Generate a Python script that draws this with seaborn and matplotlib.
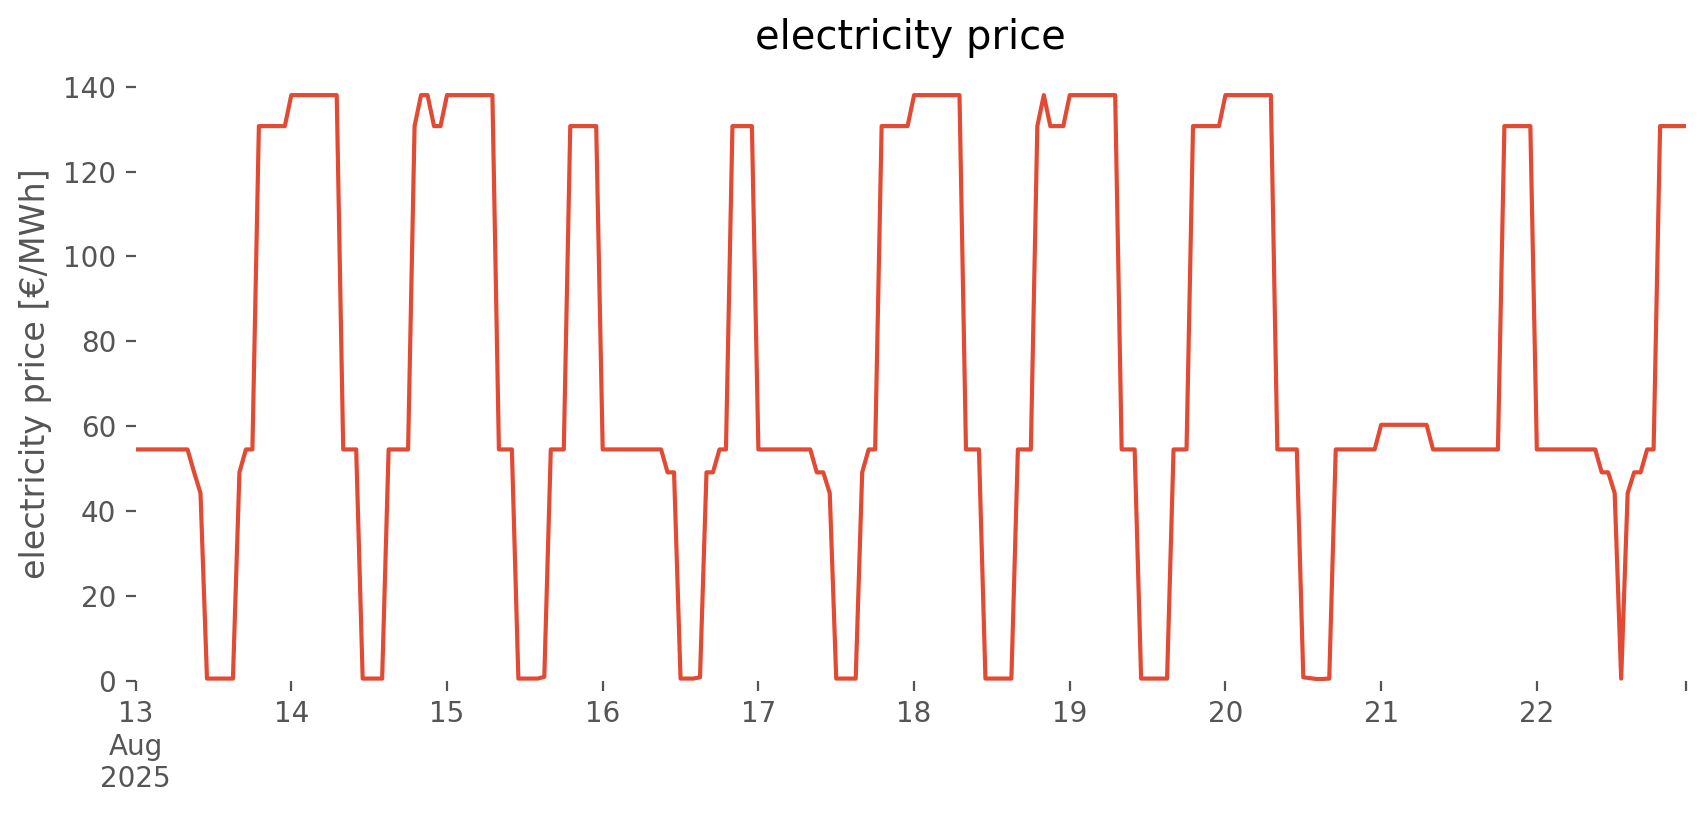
import pandas as pd
import matplotlib
matplotlib.use("Agg")
import matplotlib.pyplot as plt
import seaborn as sns

# Hourly electricity prices [€/MWh], one list per day
aug13 = [54.5, 54.5, 54.5, 54.5, 54.5, 54.5, 54.5, 54.5, 54.5, 49.2, 44.2, 0.5,
         0.5, 0.5, 0.5, 0.5, 49.1, 54.5, 54.5, 130.7, 130.7, 130.7, 130.7, 130.7]
aug14 = [138.0, 138.0, 138.0, 138.0, 138.0, 138.0, 138.0, 138.0, 54.5, 54.5, 54.5, 0.5,
         0.5, 0.5, 0.5, 54.5, 54.5, 54.5, 54.5, 130.7, 138.0, 138.0, 130.7, 130.7]
aug15 = [138.0, 138.0, 138.0, 138.0, 138.0, 138.0, 138.0, 138.0, 54.5, 54.5, 54.5, 0.5,
         0.5, 0.5, 0.5, 0.9, 54.5, 54.5, 54.5, 130.7, 130.7, 130.7, 130.7, 130.7]
aug16 = [54.5, 54.5, 54.5, 54.5, 54.5, 54.5, 54.5, 54.5, 54.5, 54.5, 49.1, 49.1,
         0.5, 0.5, 0.5, 0.8, 49.1, 49.1, 54.5, 54.5, 130.7, 130.7, 130.7, 130.7]
aug17 = [54.5, 54.5, 54.5, 54.5, 54.5, 54.5, 54.5, 54.5, 54.5, 49.1, 49.1, 44.2,
         0.5, 0.5, 0.5, 0.5, 49.1, 54.5, 54.5, 130.7, 130.7, 130.7, 130.7, 130.7]
aug18 = [138.0, 138.0, 138.0, 138.0, 138.0, 138.0, 138.0, 138.0, 54.5, 54.5, 54.5, 0.5,
         0.5, 0.5, 0.5, 0.5, 54.5, 54.5, 54.5, 130.7, 138.0, 130.7, 130.7, 130.7]
aug19 = [138.0, 138.0, 138.0, 138.0, 138.0, 138.0, 138.0, 138.0, 54.5, 54.5, 54.5, 0.5,
         0.5, 0.5, 0.5, 0.5, 54.5, 54.5, 54.5, 130.7, 130.7, 130.7, 130.7, 130.7]
aug20 = [138.0, 138.0, 138.0, 138.0, 138.0, 138.0, 138.0, 138.0, 54.5, 54.5, 54.5, 54.5,
         0.8, 0.6, 0.4, 0.4, 0.5, 54.5, 54.5, 54.5, 54.5, 54.5, 54.5, 54.5]
aug21 = [60.3, 60.3, 60.3, 60.3, 60.3, 60.3, 60.3, 60.3, 54.5, 54.5, 54.5, 54.5,
         54.5, 54.5, 54.5, 54.5, 54.5, 54.5, 54.5, 130.7, 130.7, 130.7, 130.7, 130.7]
aug22 = [54.5, 54.5, 54.5, 54.5, 54.5, 54.5, 54.5, 54.5, 54.5, 54.5, 49.1, 49.1,
         44.2, 0.5, 44.2, 49.1, 49.1, 54.5, 54.5, 130.7, 130.7, 130.7, 130.7, 130.7]

days = [aug13, aug14, aug15, aug16, aug17, aug18, aug19, aug20, aug21, aug22]
day_labels = ["13\nAug\n2025", "14", "15", "16", "17", "18", "19", "20", "21", "22"]

prices = [p for day in days for p in day]
times = pd.date_range("2025-08-13 00:00", periods=len(prices), freq="h")
df = pd.DataFrame({"time": times, "price": prices})

plt.style.use("ggplot")

fig, ax = plt.subplots(figsize=(8.53, 4.075), dpi=200)
fig.subplots_adjust(left=0.0795, right=0.9883, bottom=0.1648, top=0.9191)

sns.lineplot(data=df, x="time", y="price", ax=ax, color="#E24A33", linewidth=1.5)

# white background, no grid, no frame
ax.set_facecolor("white")
ax.grid(False)
for s in ax.spines.values():
    s.set_visible(False)

ax.set_xlim(times[0], times[-1])
ax.set_ylim(bottom=0)

# day ticks plus a bare tick at the last hour
day_starts = pd.date_range("2025-08-13", periods=len(days), freq="D")
ax.set_xticks(list(day_starts) + [times[-1]])
ax.set_xticklabels(day_labels + [""])
ax.set_yticks([0, 20, 40, 60, 80, 100, 120, 140])

ax.set_title("electricity price")
ax.set_xlabel("")
ax.set_ylabel("electricity price [€/MWh]")

fig.savefig("out.png", dpi=200)
